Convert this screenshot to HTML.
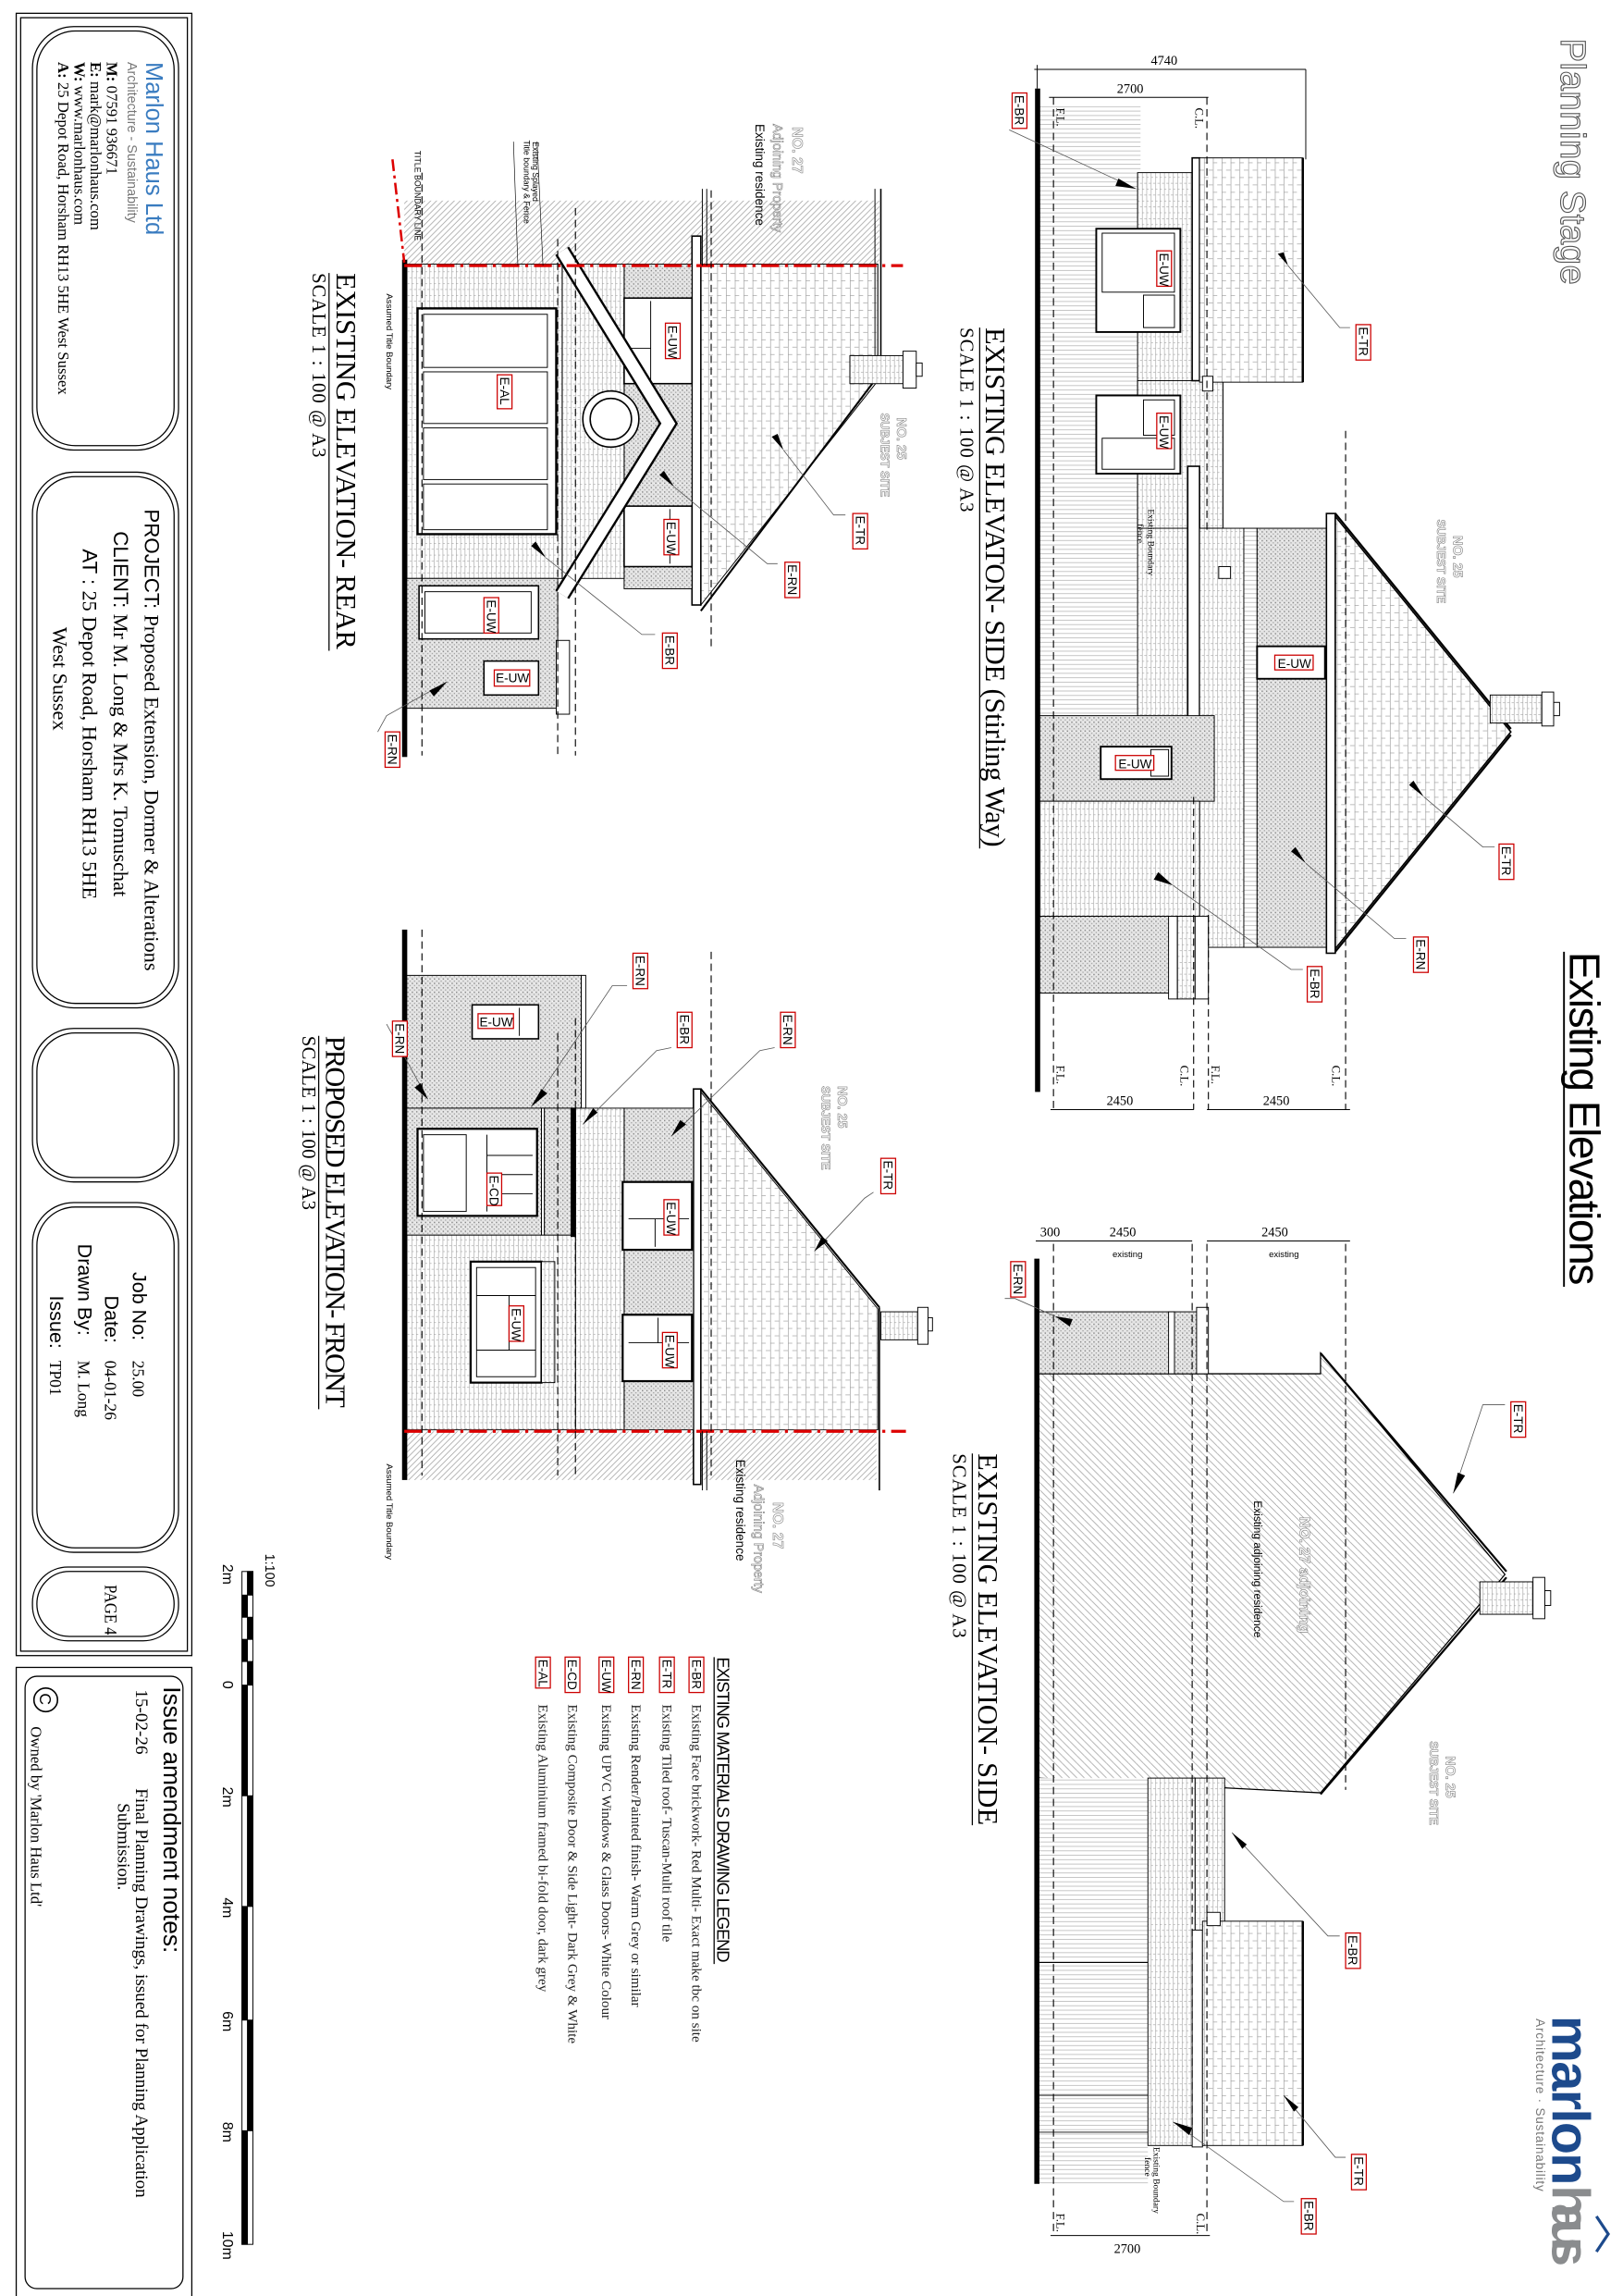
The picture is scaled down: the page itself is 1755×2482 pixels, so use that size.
<!DOCTYPE html>
<html><head><meta charset="utf-8"><style>
html,body{margin:0;padding:0;background:#fff}
svg{display:block}
text{font-family:"Liberation Sans",sans-serif}
.sf{font-family:"Liberation Serif",serif}
.lb rect{fill:#fff;stroke:#c00;stroke-width:0.8}
.lb text{font-size:8.5px;fill:#000}
</style></head><body>
<svg xmlns="http://www.w3.org/2000/svg" width="1755" height="2482" viewBox="0 0 1100 1556" preserveAspectRatio="none">
<defs>
<pattern id="brick" patternUnits="userSpaceOnUse" width="3" height="8">
<rect width="3" height="8" fill="#fff"/>
<line x1="0.2" y1="0" x2="0.2" y2="8" stroke="#9a9a9a" stroke-width="0.35"/>
<line x1="0" y1="0.2" x2="1.5" y2="0.2" stroke="#9a9a9a" stroke-width="0.35"/>
<line x1="1.5" y1="4.2" x2="3" y2="4.2" stroke="#9a9a9a" stroke-width="0.35"/>
</pattern>
<pattern id="tile" patternUnits="userSpaceOnUse" width="6" height="10">
<rect width="6" height="10" fill="#fff"/>
<line x1="0.3" y1="0" x2="0.3" y2="10" stroke="#9a9a9a" stroke-width="0.4"/>
<line x1="0" y1="0.3" x2="3" y2="0.3" stroke="#9a9a9a" stroke-width="0.4"/>
<line x1="3" y1="5.3" x2="6" y2="5.3" stroke="#9a9a9a" stroke-width="0.4"/>
</pattern>
<pattern id="stip" patternUnits="userSpaceOnUse" width="3" height="3">
<rect width="3" height="3" fill="#e4e4e4"/>
<rect x="0" y="0" width="0.9" height="0.9" fill="#8a8a8a"/>
<rect x="1.6" y="1.5" width="0.8" height="0.8" fill="#a0a0a0"/>
<rect x="2.2" y="0.3" width="0.6" height="0.6" fill="#fff"/>
</pattern>
<pattern id="hatch" patternUnits="userSpaceOnUse" width="4" height="4">
<rect width="4" height="4" fill="#fff"/>
<path d="M-1,1 L1,-1 M0,4 L4,0 M3,5 L5,3" stroke="#9a9a9a" stroke-width="0.45"/>
</pattern>
<pattern id="hatch2" patternUnits="userSpaceOnUse" width="5" height="5">
<rect width="5" height="5" fill="#fff"/>
<path d="M-1,-1 L1,1 M0,0 L5,5 M4,-1 L6,1" stroke="#9a9a9a" stroke-width="0.45"/>
</pattern>
<pattern id="fence" patternUnits="userSpaceOnUse" width="6" height="3">
<rect width="6" height="3" fill="#fff"/>
<line x1="0" y1="0.3" x2="6" y2="0.3" stroke="#a5a5a5" stroke-width="0.4"/>
</pattern>
</defs>
<rect width="1100" height="1556" fill="#fff"/>

<!-- ============ TITLE BLOCK ============ -->
<g fill="none" stroke="#000" stroke-width="0.8">
<rect x="11" y="9" width="119" height="1113"/>
<rect x="14" y="12" width="113" height="1107"/>
<rect x="22" y="18" width="99" height="287" rx="28"/>
<rect x="25" y="21" width="93" height="281" rx="26"/>
<rect x="22" y="320" width="99" height="363" rx="28"/>
<rect x="25" y="323" width="93" height="357" rx="26"/>
<rect x="22" y="697" width="99" height="104" rx="28"/>
<rect x="25" y="700" width="93" height="98" rx="26"/>
<rect x="22" y="815" width="99" height="237" rx="28"/>
<rect x="25" y="818" width="93" height="231" rx="26"/>
<rect x="22" y="1062" width="99" height="50" rx="24"/>
<rect x="25" y="1065" width="93" height="44" rx="22"/>
<rect x="11" y="1130" width="119" height="427"/>
<rect x="17" y="1136" width="107" height="415" rx="8"/>
</g>
<text transform="translate(99,42) rotate(90)" font-size="16" fill="#3a7cc0">Marlon Haus Ltd</text>
<text transform="translate(86.5,42) rotate(90)" font-size="9" fill="#777">Architecture - Sustainability</text>
<g class="sf" font-size="10.5">
<text class="sf" transform="translate(72.5,42) rotate(90)"><tspan font-weight="bold">M:</tspan>  07591 936671</text>
<text class="sf" transform="translate(61.5,42) rotate(90)"><tspan font-weight="bold">E:</tspan>  mark@marlonhaus.com</text>
<text class="sf" transform="translate(50.5,42) rotate(90)"><tspan font-weight="bold">W:</tspan>  www.marlonhaus.com</text>
<text class="sf" transform="translate(39.5,42) rotate(90)"><tspan font-weight="bold">A:</tspan>  25 Depot Road, Horsham RH13 5HE West Sussex</text>
</g>
<text transform="translate(98,345) rotate(90)" font-size="14">PROJECT:  <tspan font-family="Liberation Serif">Proposed Extension, Dormer &amp; Alterations</tspan></text>
<text transform="translate(77,360) rotate(90)" font-size="14">CLIENT:  <tspan font-family="Liberation Serif">Mr M. Long &amp; Mrs K. Tomuschat</tspan></text>
<text transform="translate(56,372) rotate(90)" font-size="14">AT :  <tspan font-family="Liberation Serif">25 Depot Road, Horsham RH13 5HE</tspan></text>
<text class="sf" transform="translate(36,425) rotate(90)" font-size="14">West Sussex</text>
<text transform="translate(90,862) rotate(90)" font-size="13.5">Job No:</text>
<text class="sf" transform="translate(90,922) rotate(90)" font-size="11">25.00</text>
<text transform="translate(71,878) rotate(90)" font-size="13.5">Date:</text>
<text class="sf" transform="translate(71,922) rotate(90)" font-size="11">04-01-26</text>
<text transform="translate(53,843) rotate(90)" font-size="13.5">Drawn By:</text>
<text class="sf" transform="translate(53,922) rotate(90)" font-size="11">M. Long</text>
<text transform="translate(34,878) rotate(90)" font-size="13.5">Issue:</text>
<text class="sf" transform="translate(34,922) rotate(90)" font-size="11">TP01</text>
<text class="sf" transform="translate(71,1074) rotate(90)" font-size="12" textLength="34" lengthAdjust="spacingAndGlyphs">PAGE  4</text>
<text transform="translate(111,1143) rotate(90)" font-size="16.5">Issue amendment notes:</text>
<text class="sf" transform="translate(92,1145) rotate(90)" font-size="12">15-02-26</text>
<text class="sf" transform="translate(92,1212) rotate(90)" font-size="12">Final Planning Drawings, issued for Planning Application</text>
<text class="sf" transform="translate(80,1222) rotate(90)" font-size="12">Submission.</text>
<circle cx="31" cy="1152" r="8" fill="none" stroke="#000" stroke-width="1"/>
<text transform="translate(27,1147.5) rotate(90)" font-size="11">C</text>
<text class="sf" transform="translate(21,1170) rotate(90)" font-size="10.5">Owned by 'Marlon Haus Ltd'</text>

<!-- ============ SCALE BAR ============ -->
<g stroke="#000" stroke-width="0.6">
<rect x="164" y="1065" width="7.4" height="456" fill="#fff"/>
<rect x="167.7" y="1065" width="3.7" height="16" fill="#000"/>
<rect x="164" y="1081" width="3.7" height="15" fill="#000"/>
<rect x="167.7" y="1096" width="3.7" height="15" fill="#000"/>
<rect x="164" y="1111" width="3.7" height="15" fill="#000"/>
<rect x="167.7" y="1126" width="3.7" height="16" fill="#000"/>
<rect x="164" y="1142" width="3.7" height="75" fill="#000"/>
<rect x="167.7" y="1217" width="3.7" height="75" fill="#000"/>
<rect x="164" y="1292" width="3.7" height="77" fill="#000"/>
<rect x="167.7" y="1369" width="3.7" height="75" fill="#000"/>
<rect x="164" y="1444" width="3.7" height="77" fill="#000"/>
</g>
<text transform="translate(180,1053) rotate(90)" font-size="9">1:100</text>
<g font-size="10">
<text transform="translate(151,1060) rotate(90)">2m</text>
<text transform="translate(151,1139) rotate(90)">0</text>
<text transform="translate(151,1211) rotate(90)">2m</text>
<text transform="translate(151,1286) rotate(90)">4m</text>
<text transform="translate(151,1363) rotate(90)">6m</text>
<text transform="translate(151,1438) rotate(90)">8m</text>
<text transform="translate(151,1512) rotate(90)">10m</text>
</g>

<!-- ============ LEGEND ============ -->
<text transform="translate(486,1123) rotate(90)" font-size="11.5" textLength="207">EXISTING MATERIALS DRAWING LEGEND</text>
<line x1="484" y1="1123" x2="484" y2="1331" stroke="#000" stroke-width="0.8"/>
<g class="lb">
<g transform="translate(468,1123) rotate(90)"><rect x="0" y="-9" width="24" height="10"/><text x="1.5" y="-1">E-BR</text></g>
<g transform="translate(448,1123) rotate(90)"><rect x="0" y="-9" width="24" height="10"/><text x="1.5" y="-1">E-TR</text></g>
<g transform="translate(427,1123) rotate(90)"><rect x="0" y="-9" width="24" height="10"/><text x="1.5" y="-1">E-RN</text></g>
<g transform="translate(407,1123) rotate(90)"><rect x="0" y="-9" width="24" height="10"/><text x="1.5" y="-1">E-UW</text></g>
<g transform="translate(384,1123) rotate(90)"><rect x="0" y="-9" width="24" height="10"/><text x="1.5" y="-1">E-CD</text></g>
<g transform="translate(364,1123) rotate(90)"><rect x="0" y="-9" width="21" height="10"/><text x="1.5" y="-1">E-AL</text></g>
</g>
<g class="sf" font-size="9.5" fill="#222">
<text class="sf" transform="translate(469,1155) rotate(90)">Existing Face brickwork- Red Multi- Exact make tbc on site</text>
<text class="sf" transform="translate(449,1155) rotate(90)">Existing Tiled roof- Tuscan-Multi roof tile</text>
<text class="sf" transform="translate(428,1155) rotate(90)">Existing Render/Painted finish- Warm Grey or similar</text>
<text class="sf" transform="translate(408,1155) rotate(90)">Existing UPVC Windows &amp; Glass Doors- White Colour</text>
<text class="sf" transform="translate(385,1155) rotate(90)">Existing Composite Door &amp; Side Light- Dark Grey &amp; White</text>
<text class="sf" transform="translate(365,1155) rotate(90)">Existing Aluminium framed bi-fold door, dark grey</text>
</g>

<!-- ============ HEADERS ============ -->
<text transform="translate(1058,26) rotate(90)" font-size="24" fill="#fff" stroke="#555" stroke-width="0.7" textLength="167">Planning Stage</text>
<text transform="translate(1064,645) rotate(90)" font-size="29" textLength="226">Existing Elevations</text>
<line x1="1060" y1="645" x2="1060" y2="872" stroke="#000" stroke-width="1.2"/>
<text transform="translate(1052,1366) rotate(90)" font-size="36" font-weight="bold" fill="#1d4a8c" textLength="115">marlon</text>
<text transform="translate(1052,1481) rotate(90)" font-size="36" font-weight="bold" fill="#8a8c8e" textLength="55">haus</text>
<path d="M1082,1502 L1090,1514 L1082,1526" fill="none" stroke="#1d4a8c" stroke-width="2"/>
<text transform="translate(1041,1368) rotate(90)" font-size="8.5" fill="#777" textLength="117">Architecture · Sustainability</text>

<!-- ============ ELEVATION A: SIDE (Stirling Way) ============ -->
<g stroke="#000" stroke-width="0.6">
<rect x="703" y="72" width="70" height="550" fill="url(#fence)" stroke="none"/>
<rect x="771" y="117" width="40" height="370" fill="url(#brick)"/>
<rect x="771" y="258" width="58" height="100" fill="url(#brick)"/>
<rect x="808" y="107" width="5" height="151" fill="#fff" stroke-width="1"/>
<rect x="813" y="107" width="70" height="152" fill="url(#tile)"/>
<line x1="883" y1="107" x2="883" y2="259" stroke-width="1.5"/>
<rect x="743" y="155" width="57" height="70" fill="#fff" stroke-width="1.2"/>
<rect x="747" y="158" width="49" height="40" fill="none"/>
<rect x="775" y="200" width="21" height="22" fill="none"/>
<rect x="743" y="268" width="57" height="53" fill="#fff" stroke-width="1.2"/>
<rect x="775" y="271" width="21" height="24" fill="none"/>
<rect x="747" y="297" width="49" height="21" fill="none"/>
<rect x="805" y="316" width="8" height="172" fill="#fff" stroke-width="1"/>
<rect x="815" y="255" width="7" height="10" fill="#fff"/>
<rect x="813" y="358" width="30" height="284" fill="url(#brick)"/>
<rect x="843" y="358" width="9" height="284" fill="url(#fence)"/>
<rect x="852" y="358" width="48" height="284" fill="url(#stip)"/>
<rect x="899" y="348" width="6" height="298" fill="#fff" stroke-width="1"/>
<polygon points="905,350 1024,496 905,643" fill="url(#tile)" stroke-width="1"/>
<line x1="905" y1="348" x2="1024" y2="494" stroke-width="1.4"/>
<line x1="1024" y1="498" x2="905" y2="645" stroke-width="1.4"/>
<rect x="1010" y="471" width="35" height="19" fill="url(#brick)"/>
<rect x="1045" y="469" width="8" height="23" fill="#fff"/>
<rect x="1053" y="476" width="4" height="9" fill="#fff"/>
<rect x="852" y="438" width="46" height="22" fill="#fff" stroke-width="1.2"/>
<rect x="826" y="384" width="8" height="8" fill="#fff"/>
<rect x="703" y="485" width="120" height="58" fill="url(#stip)"/>
<rect x="746" y="506" width="48" height="22" fill="#fff" stroke-width="1.2"/>
<rect x="780" y="508" width="12" height="18" fill="none"/>
<rect x="703" y="543" width="110" height="78" fill="url(#brick)"/>
<rect x="703" y="621" width="90" height="52" fill="url(#stip)"/>
<rect x="792" y="621" width="6" height="56" fill="#fff"/>
<rect x="798" y="621" width="12" height="56" fill="url(#brick)"/>
<rect x="810" y="621" width="9" height="56" fill="#fff"/>
</g>
<rect x="701.5" y="60" width="3.5" height="680" fill="#000"/>
<g stroke="#000" stroke-width="0.7" stroke-dasharray="5,3" fill="none">
<line x1="714" y1="66" x2="714" y2="752"/>
<line x1="818" y1="66" x2="818" y2="360"/>
<line x1="809" y1="540" x2="809" y2="752"/>
<line x1="819" y1="620" x2="819" y2="752"/>
<line x1="912" y1="292" x2="912" y2="752"/>
</g>
<g stroke="#000" stroke-width="0.6">
<line x1="701" y1="47" x2="885" y2="47"/><line x1="885" y1="47" x2="885" y2="108"/><line x1="703" y1="44" x2="703" y2="60"/>
<line x1="711" y1="66" x2="819" y2="66"/>
<line x1="712" y1="752" x2="809" y2="752"/>
<line x1="818" y1="752" x2="915" y2="752"/>
</g>
<g class="sf" font-size="9">
<text class="sf" x="780" y="44">4740</text>
<text class="sf" x="757" y="63">2700</text>
<text class="sf" x="750" y="749">2450</text>
<text class="sf" x="856" y="749">2450</text>
</g>
<g class="sf" font-size="8">
<text class="sf" transform="translate(716,73) rotate(90)">F.L.</text>
<text class="sf" transform="translate(810,73) rotate(90)">C.L.</text>
<text class="sf" transform="translate(716,722) rotate(90)">F.L.</text>
<text class="sf" transform="translate(800,722) rotate(90)">C.L.</text>
<text class="sf" transform="translate(821,722) rotate(90)">F.L.</text>
<text class="sf" transform="translate(903,722) rotate(90)">C.L.</text>
<text class="sf" transform="translate(778,345) rotate(90)" font-size="6">Existing Boundary</text>
<text class="sf" transform="translate(771,355) rotate(90)" font-size="6">fence</text>
</g>
<text transform="translate(985,363) rotate(90)" font-size="9" font-weight="bold" fill="#fff" stroke="#888" stroke-width="0.4">NO. 25</text>
<text transform="translate(974,352) rotate(90)" font-size="8" font-weight="bold" fill="#fff" stroke="#888" stroke-width="0.4">SUBJEST SITE</text>
<text class="sf" transform="translate(668,222) rotate(90)" font-size="19" textLength="352">EXISTING ELEVATON- SIDE (Stirling Way)</text>
<line x1="664" y1="222" x2="664" y2="575" stroke="#000" stroke-width="0.8"/>
<text class="sf" transform="translate(651,222) rotate(90)" font-size="13" textLength="125">SCALE  1 : 100 @ A3</text>

<!-- ============ ELEVATION D ============ -->
<g stroke="#000" stroke-width="0.6">
<polygon points="703,931 895,931 895,917 1020,1067 895,1215 703,1205" fill="url(#hatch2)" stroke-width="0.8"/>
<line x1="895" y1="917" x2="1021" y2="1065" stroke-width="1.4"/>
<line x1="1021" y1="1069" x2="895" y2="1216" stroke-width="1.4"/>
<rect x="1003" y="1072" width="36" height="22" fill="url(#brick)"/>
<rect x="1039" y="1069" width="8" height="28" fill="#fff"/>
<rect x="1047" y="1078" width="4" height="10" fill="#fff"/>
<rect x="703" y="889" width="115" height="42" fill="url(#stip)"/>
<rect x="792" y="889" width="4" height="42" fill="#fff"/>
<rect x="811" y="886" width="8" height="45" fill="#fff"/>
<rect x="703" y="1205" width="75" height="275" fill="url(#fence)" stroke="none"/>
<line x1="703" y1="1330" x2="778" y2="1330"/><line x1="703" y1="1420" x2="778" y2="1420"/><line x1="703" y1="1445" x2="778" y2="1445"/>
<rect x="778" y="1205" width="32" height="249" fill="url(#brick)"/>
<rect x="810" y="1205" width="20" height="104" fill="url(#brick)"/>
<rect x="808" y="1308" width="7" height="147" fill="#fff"/>
<rect x="815" y="1302" width="68" height="152" fill="url(#tile)"/>
<line x1="883" y1="1302" x2="883" y2="1454" stroke-width="1.5"/>
<rect x="818" y="1296" width="9" height="9" fill="#fff"/>
</g>
<rect x="701" y="853" width="3.5" height="627" fill="#000"/>
<g stroke="#000" stroke-width="0.7" stroke-dasharray="5,3" fill="none">
<line x1="714" y1="843" x2="714" y2="1515"/>
<line x1="808" y1="843" x2="808" y2="1450"/>
<line x1="818" y1="843" x2="818" y2="1515"/>
<line x1="912" y1="843" x2="912" y2="1213"/>
</g>
<g stroke="#000" stroke-width="0.6">
<line x1="702" y1="841" x2="808" y2="841"/><line x1="818" y1="841" x2="915" y2="841"/>
<line x1="712" y1="1515" x2="820" y2="1515"/>
</g>
<g class="sf" font-size="9">
<text class="sf" x="705" y="838">300</text>
<text class="sf" x="752" y="838">2450</text>
<text class="sf" x="855" y="838">2450</text>
<text class="sf" x="755" y="1527">2700</text>
</g>
<text x="754" y="852" font-size="6">existing</text>
<text x="860" y="852" font-size="6">existing</text>
<text class="sf" transform="translate(716,1500) rotate(90)" font-size="8">F.L.</text>
<text class="sf" transform="translate(811,1500) rotate(90)" font-size="8">C.L.</text>
<text class="sf" transform="translate(782,1455) rotate(90)" font-size="6">Existing Boundary</text>
<text class="sf" transform="translate(776,1462) rotate(90)" font-size="6">fence</text>
<text transform="translate(881,1028) rotate(90)" font-size="10" font-weight="bold" fill="#fff" stroke="#888" stroke-width="0.4">NO. 27 adjoining</text>
<text transform="translate(850,1017) rotate(90)" font-size="7.5">Existing adjoining residence</text>
<text transform="translate(980,1190) rotate(90)" font-size="9" font-weight="bold" fill="#fff" stroke="#888" stroke-width="0.4">NO. 25</text>
<text transform="translate(969,1180) rotate(90)" font-size="8" font-weight="bold" fill="#fff" stroke="#888" stroke-width="0.4">SUBJEST SITE</text>
<text class="sf" transform="translate(663,985) rotate(90)" font-size="19" textLength="252">EXISTING ELEVATION- SIDE</text>
<line x1="659" y1="985" x2="659" y2="1237" stroke="#000" stroke-width="0.8"/>
<text class="sf" transform="translate(646,985) rotate(90)" font-size="13" textLength="125">SCALE  1 : 100 @ A3</text>

<!-- ============ ELEVATION B: REAR ============ -->
<polygon points="274,136 596,136 596,179 274,179" fill="url(#hatch)"/>
<g stroke="#000" stroke-width="0.6">
<polygon points="475,179 595,179 595,258 475,410" fill="url(#tile)"/>
<line x1="595" y1="255" x2="475" y2="414" stroke-width="1.3"/>
<line x1="597" y1="128" x2="597" y2="258" stroke-width="1"/>
<line x1="593" y1="128" x2="593" y2="258" stroke-width="0.6"/>
<rect x="576" y="241" width="36" height="19" fill="url(#brick)"/>
<rect x="612" y="238" width="9" height="25" fill="#fff"/>
<rect x="621" y="246" width="4" height="9" fill="#fff"/>
<rect x="469" y="160" width="6" height="250" fill="#fff" stroke-width="1"/>
<rect x="423" y="179" width="46" height="220" fill="url(#stip)"/>
<rect x="381" y="179" width="42" height="213" fill="url(#brick)"/>
<rect x="274" y="179" width="107" height="213" fill="url(#brick)"/>
<rect x="283" y="209" width="94" height="153" fill="#fff" stroke-width="1.5"/>
<rect x="287" y="213" width="84" height="36" fill="none"/>
<rect x="287" y="252" width="84" height="35" fill="none"/>
<rect x="287" y="290" width="84" height="35" fill="none"/>
<rect x="287" y="328" width="84" height="31" fill="none"/>
<rect x="274" y="392" width="104" height="88" fill="url(#stip)"/>
<rect x="284" y="397" width="81" height="36" fill="#fff" stroke-width="1"/>
<rect x="288" y="401" width="72" height="28" fill="none"/>
<rect x="328" y="448" width="37" height="23" fill="#fff" stroke-width="1"/>
<rect x="377" y="434" width="9" height="50" fill="#fff"/>
<rect x="423" y="202" width="46" height="58" fill="#fff" stroke-width="1"/>
<line x1="441" y1="204" x2="441" y2="258"/><line x1="426" y1="236" x2="441" y2="236"/>
<rect x="423" y="343" width="46" height="41" fill="#fff" stroke-width="1"/>
<line x1="454" y1="345" x2="454" y2="382"/>
<polyline points="381,170 453,287 381,403" fill="none" stroke="#000" stroke-width="11"/>
<polyline points="381,170 453,287 381,403" fill="none" stroke="#fff" stroke-width="8"/>
<circle cx="414" cy="284" r="19" fill="#fff" stroke-width="1"/>
<circle cx="414" cy="284" r="14" fill="#fff" stroke-width="1"/>
</g>
<rect x="272.5" y="176" width="3.5" height="337" fill="#000"/>
<line x1="274" y1="180" x2="612" y2="180" stroke="#d00" stroke-width="2" stroke-dasharray="12,4,2,4"/>
<line x1="266" y1="108" x2="274" y2="178" stroke="#d00" stroke-width="1.6" stroke-dasharray="8,3,2,3"/>
<g stroke="#000" stroke-width="0.7" stroke-dasharray="5,3" fill="none">
<line x1="286" y1="117" x2="286" y2="512"/>
<line x1="378" y1="162" x2="378" y2="512"/>
<line x1="390" y1="141" x2="390" y2="512"/>
<line x1="482" y1="129" x2="482" y2="440"/>
</g>
<line x1="476" y1="128" x2="476" y2="180" stroke="#000" stroke-width="0.6"/>
<line x1="479" y1="128" x2="479" y2="180" stroke="#000" stroke-width="0.6"/>
<line x1="348" y1="96" x2="351" y2="180" stroke="#000" stroke-width="0.4"/>
<line x1="364" y1="96" x2="368" y2="180" stroke="#000" stroke-width="0.4"/>
<text transform="translate(281,102) rotate(90)" font-size="5.5">TITLE BOUNDARY  LINE</text>
<text transform="translate(361,96) rotate(90)" font-size="5.5">Existing Splayed</text>
<text transform="translate(355,95) rotate(90)" font-size="5.5">Title boundary &amp; Fence</text>
<text transform="translate(262,199) rotate(90)" font-size="6">Assumed Title Boundary</text>
<text transform="translate(537,86) rotate(90)" font-size="10" font-weight="bold" fill="#fff" stroke="#888" stroke-width="0.4">NO. 27</text>
<text transform="translate(524,84) rotate(90)" font-size="9" fill="#fff" stroke="#888" stroke-width="0.4">Adjoining Property</text>
<text transform="translate(512,84) rotate(90)" font-size="8.5">Existing residence</text>
<text transform="translate(608,283) rotate(90)" font-size="9" font-weight="bold" fill="#fff" stroke="#888" stroke-width="0.4">NO. 25</text>
<text transform="translate(597,280) rotate(90)" font-size="8" font-weight="bold" fill="#fff" stroke="#888" stroke-width="0.4">SUBJEST SITE</text>
<text class="sf" transform="translate(228,185) rotate(90)" font-size="19" textLength="255">EXISTING ELEVATION- REAR</text>
<line x1="223" y1="185" x2="223" y2="441" stroke="#000" stroke-width="0.8"/>
<text class="sf" transform="translate(212,185) rotate(90)" font-size="13" textLength="125">SCALE  1 : 100 @ A3</text>

<!-- ============ ELEVATION C: FRONT ============ -->
<polygon points="274,970 594,970 594,1003 274,1003" fill="url(#hatch)"/>
<g stroke="#000" stroke-width="0.6">
<polygon points="475,740 595,887 595,969 475,969" fill="url(#tile)"/>
<line x1="475" y1="738" x2="596" y2="886" stroke-width="1.3"/>
<line x1="596" y1="886" x2="596" y2="1010" stroke-width="1"/>
<rect x="597" y="889" width="25" height="19" fill="url(#brick)"/>
<rect x="622" y="886" width="7" height="25" fill="#fff"/>
<rect x="629" y="893" width="3" height="9" fill="#fff"/>
<rect x="470" y="738" width="5" height="268" fill="#fff" stroke-width="1"/>
<rect x="423" y="751" width="47" height="218" fill="url(#stip)"/>
<rect x="390" y="751" width="33" height="218" fill="url(#brick)"/>
<rect x="274" y="837" width="116" height="132" fill="url(#brick)"/>
<rect x="274" y="661" width="120" height="90" fill="url(#stip)"/>
<rect x="394" y="661" width="3" height="90" fill="#fff"/>
<rect x="274" y="751" width="93" height="86" fill="url(#stip)"/>
<rect x="367" y="751" width="2" height="86" fill="#fff"/>
<rect x="369" y="751" width="21" height="86" fill="url(#stip)"/>
<rect x="387" y="751" width="3" height="87" fill="#000"/>
<rect x="320" y="681" width="45" height="23" fill="#fff" stroke-width="1"/>
<line x1="352" y1="683" x2="352" y2="702"/>
<rect x="283" y="765" width="81" height="59" fill="#fff" stroke-width="1.4"/>
<rect x="287" y="769" width="29" height="52" fill="none"/>
<line x1="330" y1="769" x2="330" y2="821"/><line x1="330" y1="783" x2="361" y2="783"/><line x1="330" y1="796" x2="361" y2="796"/><line x1="330" y1="809" x2="361" y2="809"/>
<rect x="319" y="855" width="48" height="82" fill="#fff" stroke-width="1.4"/>
<rect x="323" y="859" width="40" height="74" fill="none"/>
<line x1="323" y1="878" x2="363" y2="878"/><line x1="323" y1="915" x2="363" y2="915"/><line x1="345" y1="878" x2="345" y2="915"/>
<rect x="367" y="855" width="9" height="82" fill="url(#brick)"/>
<rect x="422" y="801" width="47" height="46" fill="#fff" stroke-width="1.4"/>
<line x1="426" y1="826" x2="467" y2="826"/><line x1="444" y1="826" x2="444" y2="845"/>
<rect x="422" y="891" width="47" height="45" fill="#fff" stroke-width="1.4"/>
<line x1="426" y1="910" x2="467" y2="910"/><line x1="446" y1="893" x2="446" y2="910"/>
</g>
<rect x="272.5" y="630" width="3.5" height="373" fill="#000"/>
<line x1="274" y1="970" x2="614" y2="970" stroke="#d00" stroke-width="2" stroke-dasharray="12,4,2,4"/>
<g stroke="#000" stroke-width="0.7" stroke-dasharray="5,3" fill="none">
<line x1="286" y1="630" x2="286" y2="1000"/>
<line x1="378" y1="700" x2="378" y2="1000"/>
<line x1="390" y1="690" x2="390" y2="1000"/>
<line x1="482" y1="645" x2="482" y2="1000"/>
</g>
<line x1="476" y1="970" x2="476" y2="1010" stroke="#000" stroke-width="0.6"/>
<line x1="479" y1="970" x2="479" y2="1010" stroke="#000" stroke-width="0.6"/>
<text transform="translate(262,992) rotate(90)" font-size="6">Assumed Title Boundary</text>
<text transform="translate(524,1018) rotate(90)" font-size="10" font-weight="bold" fill="#fff" stroke="#888" stroke-width="0.4">NO. 27</text>
<text transform="translate(511,1006) rotate(90)" font-size="9" fill="#fff" stroke="#888" stroke-width="0.4">Adjoining Property</text>
<text transform="translate(499,989) rotate(90)" font-size="8.5">Existing residence</text>
<text transform="translate(568,736) rotate(90)" font-size="9" font-weight="bold" fill="#fff" stroke="#888" stroke-width="0.4">NO. 25</text>
<text transform="translate(557,736) rotate(90)" font-size="8" font-weight="bold" fill="#fff" stroke="#888" stroke-width="0.4">SUBJEST SITE</text>
<text class="sf" transform="translate(221,702) rotate(90)" font-size="19" textLength="252">PROPOSED ELEVATION- FRONT</text>
<line x1="216" y1="702" x2="216" y2="955" stroke="#000" stroke-width="0.8"/>
<text class="sf" transform="translate(205,702) rotate(90)" font-size="13" textLength="118">SCALE  1 : 100 @ A3</text>

<!-- ============ LEADERS ============ -->
<g stroke="#555" stroke-width="0.5" fill="none">
<path d="M684,88 L770,128"/><path d="M915,222 L908,222 L873,180"/>
<path d="M1013,574 L1005,574 L965,540"/><path d="M953,636 L945,636 L885,585"/>
<path d="M883,657 L875,657 L795,600"/>
<path d="M256,496 L262,485 L303,462"/><path d="M444,430 L435,430 L370,378"/>
<path d="M527,382 L520,382 L457,330"/><path d="M573,349 L565,349 L531,305"/>
<path d="M262,694 L290,745"/><path d="M425,668 L415,668 L360,750"/>
<path d="M455,710 L445,712 L395,762"/><path d="M525,710 L515,712 L455,770"/>
<path d="M592,808 L586,812 L552,848"/>
<path d="M681,880 L688,880 L715,892"/><path d="M1020,952 L1005,952 L985,1012"/>
<path d="M908,1312 L900,1312 L835,1242"/><path d="M912,1462 L905,1462 L870,1420"/>
<path d="M877,1492 L870,1492 L795,1438"/>
</g>
<g fill="#000">
<polygon points="770,128 756,126 758,121"/><polygon points="873,180 866,172 870,171"/>
<polygon points="965,540 955,532 958,529"/><polygon points="885,585 875,577 878,574"/>
<polygon points="795,600 782,596 785,591"/><polygon points="303,462 294,472 291,468"/>
<polygon points="370,378 360,370 363,367"/><polygon points="457,330 447,322 450,319"/>
<polygon points="531,305 523,296 527,294"/><polygon points="290,745 281,737 285,734"/>
<polygon points="360,750 367,738 371,741"/><polygon points="395,762 402,751 405,754"/>
<polygon points="455,770 461,759 465,762"/><polygon points="552,848 557,838 561,841"/>
<polygon points="715,892 727,894 725,899"/><polygon points="985,1012 988,998 993,1000"/>
<polygon points="835,1242 845,1250 842,1253"/><polygon points="870,1420 880,1428 877,1431"/>
<polygon points="795,1438 808,1442 806,1447"/>
</g>

<!-- ============ LABELS ============ -->
<g class="lb">
<g transform="translate(687,63) rotate(90)"><rect x="0" y="-9" width="24" height="10"/><text x="1.5" y="-1">E-BR</text></g>
<g transform="translate(785,170) rotate(90)"><rect x="0" y="-9" width="24" height="10"/><text x="1.5" y="-1">E-UW</text></g>
<g transform="translate(785,280) rotate(90)"><rect x="0" y="-9" width="24" height="10"/><text x="1.5" y="-1">E-UW</text></g>
<g transform="translate(920,220) rotate(90)"><rect x="0" y="-9" width="24" height="10"/><text x="1.5" y="-1">E-TR</text></g>
<g transform="translate(1017,572) rotate(90)"><rect x="0" y="-9" width="24" height="10"/><text x="1.5" y="-1">E-TR</text></g>
<g transform="translate(959,635) rotate(90)"><rect x="0" y="-9" width="24" height="10"/><text x="1.5" y="-1">E-RN</text></g>
<g transform="translate(887,655) rotate(90)"><rect x="0" y="-9" width="24" height="10"/><text x="1.5" y="-1">E-BR</text></g>
<g><rect x="864" y="444" width="26" height="10"/><text x="866" y="452.5">E-UW</text></g>
<g><rect x="756" y="512" width="26" height="10"/><text x="758" y="520.5">E-UW</text></g>
<g transform="translate(338,254) rotate(90)"><rect x="0" y="-9" width="23" height="10"/><text x="1.5" y="-1">E-AL</text></g>
<g transform="translate(452,219) rotate(90)"><rect x="0" y="-9" width="24" height="10"/><text x="1.5" y="-1">E-UW</text></g>
<g transform="translate(451,352) rotate(90)"><rect x="0" y="-9" width="24" height="10"/><text x="1.5" y="-1">E-UW</text></g>
<g transform="translate(329,405) rotate(90)"><rect x="0" y="-9" width="24" height="10"/><text x="1.5" y="-1">E-UW</text></g>
<g><rect x="335" y="454" width="24" height="11"/><text x="336" y="462.5">E-UW</text></g>
<g transform="translate(450,429) rotate(90)"><rect x="0" y="-9" width="24" height="10"/><text x="1.5" y="-1">E-BR</text></g>
<g transform="translate(533,381) rotate(90)"><rect x="0" y="-9" width="24" height="10"/><text x="1.5" y="-1">E-RN</text></g>
<g transform="translate(579,348) rotate(90)"><rect x="0" y="-9" width="24" height="10"/><text x="1.5" y="-1">E-TR</text></g>
<g transform="translate(262,496) rotate(90)"><rect x="0" y="-9" width="24" height="10"/><text x="1.5" y="-1">E-RN</text></g>
<g transform="translate(267,692) rotate(90)"><rect x="0" y="-9" width="24" height="10"/><text x="1.5" y="-1">E-RN</text></g>
<g><rect x="324" y="687" width="24" height="10"/><text x="325" y="695.5">E-UW</text></g>
<g transform="translate(331,795) rotate(90)"><rect x="0" y="-9" width="22" height="10"/><text x="1.5" y="-1">E-CD</text></g>
<g transform="translate(346,885) rotate(90)"><rect x="0" y="-9" width="24" height="10"/><text x="1.5" y="-1">E-UW</text></g>
<g transform="translate(451,813) rotate(90)"><rect x="0" y="-9" width="24" height="10"/><text x="1.5" y="-1">E-UW</text></g>
<g transform="translate(450,903) rotate(90)"><rect x="0" y="-9" width="24" height="10"/><text x="1.5" y="-1">E-UW</text></g>
<g transform="translate(430,646) rotate(90)"><rect x="0" y="-9" width="24" height="10"/><text x="1.5" y="-1">E-RN</text></g>
<g transform="translate(460,686) rotate(90)"><rect x="0" y="-9" width="24" height="10"/><text x="1.5" y="-1">E-BR</text></g>
<g transform="translate(530,686) rotate(90)"><rect x="0" y="-9" width="24" height="10"/><text x="1.5" y="-1">E-RN</text></g>
<g transform="translate(598,785) rotate(90)"><rect x="0" y="-9" width="24" height="10"/><text x="1.5" y="-1">E-TR</text></g>
<g transform="translate(686,855) rotate(90)"><rect x="0" y="-9" width="24" height="10"/><text x="1.5" y="-1">E-RN</text></g>
<g transform="translate(1025,950) rotate(90)"><rect x="0" y="-9" width="24" height="10"/><text x="1.5" y="-1">E-TR</text></g>
<g transform="translate(913,1310) rotate(90)"><rect x="0" y="-9" width="24" height="10"/><text x="1.5" y="-1">E-BR</text></g>
<g transform="translate(917,1460) rotate(90)"><rect x="0" y="-9" width="24" height="10"/><text x="1.5" y="-1">E-TR</text></g>
<g transform="translate(883,1490) rotate(90)"><rect x="0" y="-9" width="24" height="10"/><text x="1.5" y="-1">E-BR</text></g>
</g>
</svg>
</body></html>
